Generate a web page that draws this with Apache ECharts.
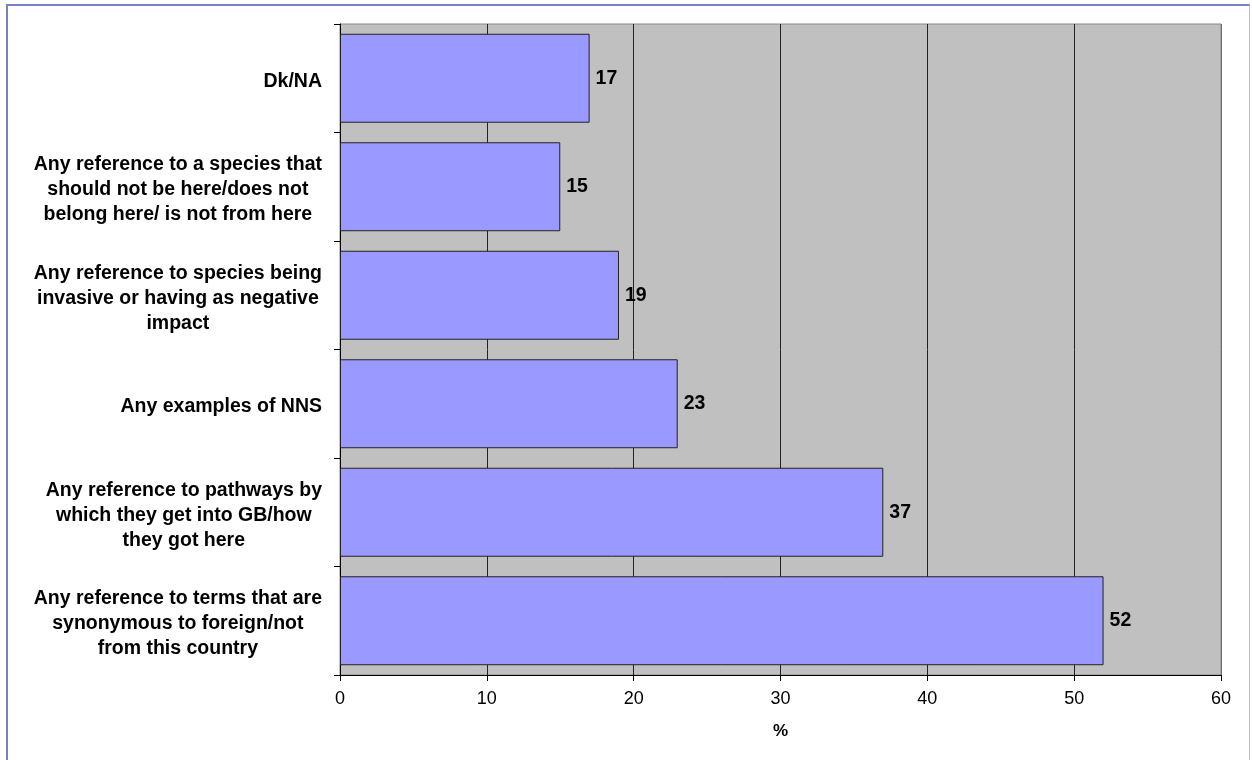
<!DOCTYPE html>
<html>
<head>
<meta charset="utf-8">
<script src="https://cdn.jsdelivr.net/npm/echarts@6/dist/echarts.min.js"></script>
<style>
html,body{margin:0;padding:0;background:#fff;}
#frame{position:absolute;left:6px;top:4px;width:1244px;height:770px;border-top:2px solid #7880c8;border-left:2px solid #7880c8;border-right:1px solid #b8bce0;box-sizing:border-box;}
#chart{position:absolute;left:0;top:0;width:1252px;height:760px;}
</style>
</head>
<body>
<div id="frame"></div>
<div id="chart"></div>
<script>
const categories = [
  'Dk/NA',
  'Any reference to a species that\nshould not be here/does not\nbelong here/ is not from here',
  'Any reference to species being\ninvasive or having as negative\nimpact',
  'Any examples of NNS',
  'Any reference to pathways by\nwhich they get into GB/how\nthey got here',
  'Any reference to terms that are\nsynonymous to foreign/not\nfrom this country'
];
const values = [17, 15, 19, 23, 37, 52];
const xTicks = [0, 10, 20, 30, 40, 50, 60];
const xAxisName = '%';

const chart = echarts.init(document.getElementById('chart'), null, {renderer: 'canvas'});
chart.setOption({
  animation: false,
  grid: {
    left: 340, right: 31, top: 24, bottom: 85,
    show: true, backgroundColor: '#c0c0c0', borderColor: '#888888', borderWidth: 1
  },
  xAxis: {
    type: 'value',
    min: xTicks[0], max: xTicks[xTicks.length - 1], interval: 10,
    name: xAxisName, nameLocation: 'middle', nameGap: 48,
    nameTextStyle: {fontFamily: 'Liberation Sans', fontWeight: 'bold', fontSize: 17, color: '#000'},
    axisLine: {show: true, lineStyle: {color: '#000', width: 1}},
    axisTick: {show: true, length: 6, lineStyle: {color: '#000'}},
    axisLabel: {fontFamily: 'Liberation Sans', fontSize: 18, color: '#000', margin: 15},
    splitLine: {show: true, lineStyle: {color: ['#222','#222','#222','#222','#222','#222','#6e6e6e'], width: 1}}
  },
  yAxis: {
    type: 'category',
    data: categories,
    inverse: true,
    axisLine: {show: true, lineStyle: {color: '#000', width: 1}},
    axisTick: {show: true, length: 6, alignWithLabel: false, lineStyle: {color: '#000'}},
    axisLabel: {
      align: 'right', margin: 18, padding: [6, 0, 0, 0],
      formatter: v => v.split('\n').map(s => '{c|' + s + '}').join('\n'),
      rich: {
        c: {
          fontFamily: 'Liberation Sans', fontWeight: 'bold', fontSize: 19.5, color: '#000',
          lineHeight: 25, align: 'center'
        }
      }
    },
    splitLine: {show: false}
  },
  series: [{
    type: 'bar',
    data: values,
    barCategoryGap: '18%',
    itemStyle: {color: '#9999ff', borderColor: '#222', borderWidth: 1},
    label: {
      show: true, position: 'right', distance: 6, padding: [5, 0, 0, 0],
      fontFamily: 'Liberation Sans', fontWeight: 'bold', fontSize: 19.5, color: '#000'
    }
  }]
});
</script>
</body>
</html>
